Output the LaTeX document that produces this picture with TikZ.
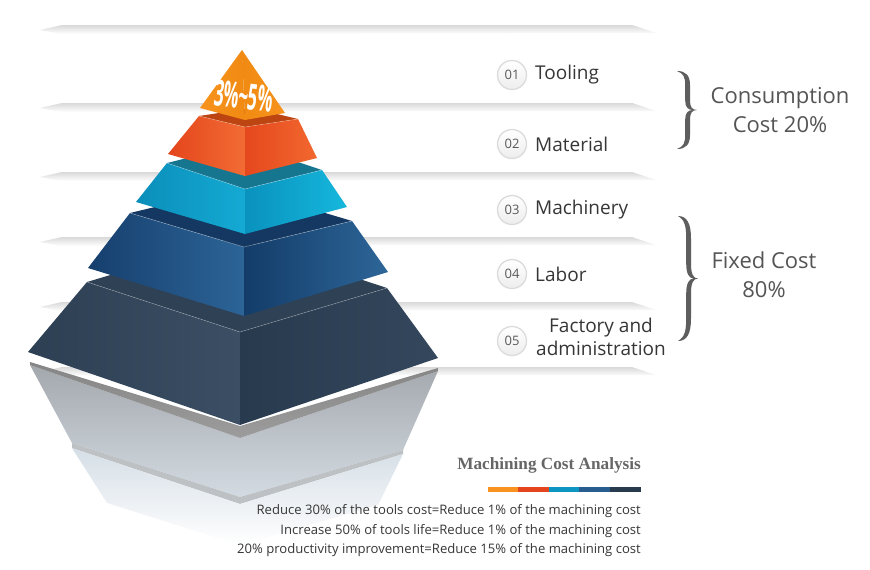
\documentclass[tikz,border=0pt]{standalone}
\usepackage{fontspec}
\setmainfont{Open Sans}
\newfontfamily\titlefont{Liberation Serif}
\usetikzlibrary{calc}
\definecolor{cOrange}{HTML}{F7931E}
\definecolor{cOrangeD}{HTML}{F08A12}
\definecolor{cRedA}{HTML}{E4451C}
\definecolor{cRedB}{HTML}{F26C34}
\definecolor{cRedC}{HTML}{E5481D}
\definecolor{cRedD}{HTML}{F2682F}
\definecolor{cRedT}{HTML}{BC4511}
\definecolor{cCyanA}{HTML}{0B8EBA}
\definecolor{cCyanB}{HTML}{14AAD3}
\definecolor{cCyanC}{HTML}{0992BE}
\definecolor{cCyanD}{HTML}{16B7DC}
\definecolor{cCyanT}{HTML}{16768F}
\definecolor{cBlueA}{HTML}{163F6D}
\definecolor{cBlueB}{HTML}{2C6497}
\definecolor{cBlueC}{HTML}{133C69}
\definecolor{cBlueD}{HTML}{2D6698}
\definecolor{cBlueT}{HTML}{143861}
\definecolor{cNavyA}{HTML}{2D3F53}
\definecolor{cNavyB}{HTML}{3B4E63}
\definecolor{cNavyC}{HTML}{283A4E}
\definecolor{cNavyD}{HTML}{34475C}
\definecolor{cNavyT}{HTML}{2F4155}
\definecolor{reflBandA}{HTML}{858585}
\definecolor{reflBandB}{HTML}{9C9C9C}
\definecolor{reflA}{HTML}{A3A8AD}
\definecolor{reflB}{HTML}{D3DBE2}
\definecolor{reflStrip}{HTML}{BEC1C4}
\definecolor{reflC}{HTML}{D5DEE6}
\definecolor{txtdark}{HTML}{363636}
\definecolor{txtmid}{HTML}{555555}
\definecolor{bracegray}{HTML}{5E5E5E}
\definecolor{titlegray}{HTML}{666666}
\newcommand\pyrlayer[7]{%
  \fill[#2] (#1Lt) -- ($(#1Lt)+(#1Rt)-(#1Ft)$) -- (#1Rt) -- (#1Ft) -- cycle;
  \shade[left color=#3, right color=#4] (#1Lt) -- (#1Ft) -- (#1Fb) -- (#1Lb) -- cycle;
  \shade[left color=#5, right color=#6] (#1Ft) -- (#1Rt) -- (#1Rb) -- (#1Fb) -- cycle;
  \draw[white, opacity=#7, line width=.6pt] (#1Lt) -- (#1Ft) -- (#1Rt);
}
\newcommand\streak[1]{%
  \shade[top color=gray!30, bottom color=white] (40,#1+5) -- (62,#1) -- (632,#1) -- (656,#1+8) -- (62,#1+9) -- cycle;
}
\tikzset{
  numcirc/.style={circle, minimum size=29pt, inner sep=0pt, draw=gray!28, line width=1.3pt,
    top color=white, bottom color=gray!14, text=gray!70!black, font=\fontsize{13}{13}\selectfont},
  itemlabel/.style={anchor=west, inner sep=0pt, text=txtdark, font=\fontsize{19}{23}\selectfont},
  grouplabel/.style={align=center, inner sep=0pt, text=txtmid, font=\fontsize{22}{29}\selectfont},
  notetext/.style={anchor=east, inner sep=0pt, text=txtdark, font=\fontsize{13.1}{13.1}\selectfont},
  cbrace/.pic={
    \fill[bracegray] (0,0) .. controls (0.45,0.0) and (0.65,0.06) .. (0.65,0.18)
      -- (0.65,0.38) .. controls (0.65,0.46) and (0.75,0.5) .. (1,0.5)
      .. controls (0.75,0.5) and (0.65,0.54) .. (0.65,0.62)
      -- (0.65,0.82) .. controls (0.65,0.94) and (0.45,1) .. (0,1)
      .. controls (0.33,0.97) and (0.41,0.92) .. (0.41,0.82)
      -- (0.41,0.62) .. controls (0.41,0.54) and (0.55,0.5) .. (0.78,0.5)
      .. controls (0.55,0.5) and (0.41,0.46) .. (0.41,0.38)
      -- (0.41,0.18) .. controls (0.41,0.08) and (0.33,0.03) .. (0,0) -- cycle;
  }
}
\begin{document}
\begin{tikzpicture}[x=1pt,y=-1pt]
\useasboundingbox (0,0) rectangle (870,570);
\fill[white] (0,0) rectangle (870,570);
% separator streaks
\streak{25}\streak{103}\streak{172}\streak{237}\streak{302}\streak{367}
% reflection
\shade[top color=reflA, bottom color=reflB] (30,365) -- (240,438) -- (438,371) -- (403,450) -- (240,497) -- (72,443) -- cycle;
\shade[top color=reflBandA, bottom color=reflBandB] (30,362) -- (240,426) -- (438,368) -- (438,371) -- (240,438) -- (30,365) -- cycle;
\fill[reflStrip] (72,443) -- (240,497) -- (403,450) -- (403,454) -- (240,504) -- (72,448) -- cycle;
\shade[top color=reflC, bottom color=white] (72,448) -- (240,504) -- (403,454) -- (378,505) -- (240,545) -- (107,503) -- cycle;
% layer coordinates
\coordinate (nLt) at (87,282);  \coordinate (nFt) at (240,332); \coordinate (nRt) at (387,288);
\coordinate (nLb) at (28,352);  \coordinate (nFb) at (240,425); \coordinate (nRb) at (438,358);
\coordinate (bLt) at (130,213); \coordinate (bFt) at (244,247); \coordinate (bRt) at (352,221);
\coordinate (bLb) at (88,268);  \coordinate (bFb) at (244,316); \coordinate (bRb) at (388,272);
\coordinate (cLt) at (167,163); \coordinate (cFt) at (245,189); \coordinate (cRt) at (322,170);
\coordinate (cLb) at (136,202); \coordinate (cFb) at (245,234); \coordinate (cRb) at (347,207);
\coordinate (rLt) at (199,116); \coordinate (rFt) at (245,127); \coordinate (rRt) at (298,119);
\coordinate (rLb) at (168,154); \coordinate (rFb) at (245,176); \coordinate (rRb) at (317,158);
\coordinate (oA) at (242,50); \coordinate (oL) at (200,108); \coordinate (oF) at (245,120); \coordinate (oR) at (285,113);
\pyrlayer{n}{cNavyT}{cNavyA}{cNavyB}{cNavyC}{cNavyD}{.3}
\pyrlayer{b}{cBlueT}{cBlueA}{cBlueB}{cBlueC}{cBlueD}{.35}
\pyrlayer{c}{cCyanT}{cCyanA}{cCyanB}{cCyanC}{cCyanD}{.35}
\pyrlayer{r}{cRedT}{cRedA}{cRedB}{cRedC}{cRedD}{.3}
\shade[left color=cOrange, right color=cOrangeD] (oA) -- (oL) -- (oF) -- cycle;
\shade[left color=cOrangeD, right color=cOrange] (oA) -- (oF) -- (oR) -- cycle;
\node[text=white, font=\bfseries\fontsize{36}{36}\selectfont, rotate=-7, inner sep=0pt] (pct) at (244,96) {\scalebox{0.47}[1]{3\%\kern-1pt\char`\~\kern-1pt5\%}};
% item labels
\node[numcirc] (c1) at (512,75) {01};
\node[numcirc] (c2) at (512,144) {02};
\node[numcirc] (c3) at (512,210) {03};
\node[numcirc] (c4) at (512,274) {04};
\node[numcirc] (c5) at (512,341) {05};
\node[itemlabel] (t1) at (535,75) {Tooling};
\node[itemlabel] (t2) at (535,144) {Material};
\node[itemlabel] (t3) at (535,210) {Machinery};
\node[itemlabel] (t4) at (535,274) {Labor};
\node[itemlabel, anchor=center, align=center] (t5) at (601,337) {Factory and\\administration};
% braces
\pic[xscale=20, yscale=78] at (677,71) {cbrace};
\pic[xscale=20, yscale=125] at (678,216) {cbrace};
\node[grouplabel] (g1) at (780,110) {Consumption\\Cost 20\%};
\node[grouplabel] (g2) at (764,275) {Fixed Cost\\80\%};
% legend
\node[anchor=east, inner sep=0pt, text=titlegray, font=\titlefont\bfseries\fontsize{17.2}{17.2}\selectfont] (title) at (641,465) {Machining Cost Analysis};
\fill[cOrange] (488,487) rectangle (518,492);
\fill[cRedA] (518,487) rectangle (549,492);
\fill[cCyanA!70!cCyanB] (549,487) rectangle (579,492);
\fill[cBlueB!80!cBlueA] (579,487) rectangle (610,492);
\fill[cNavyC] (610,487) rectangle (641,492);
\node[notetext] (n1) at (641,511) {Reduce 30\% of the tools cost=Reduce 1\% of the machining cost};
\node[notetext] (n2) at (641,531) {Increase 50\% of tools life=Reduce 1\% of the machining cost};
\node[notetext] (n3) at (641,550) {20\% productivity improvement=Reduce 15\% of the machining cost};
\end{tikzpicture}
\end{document}
